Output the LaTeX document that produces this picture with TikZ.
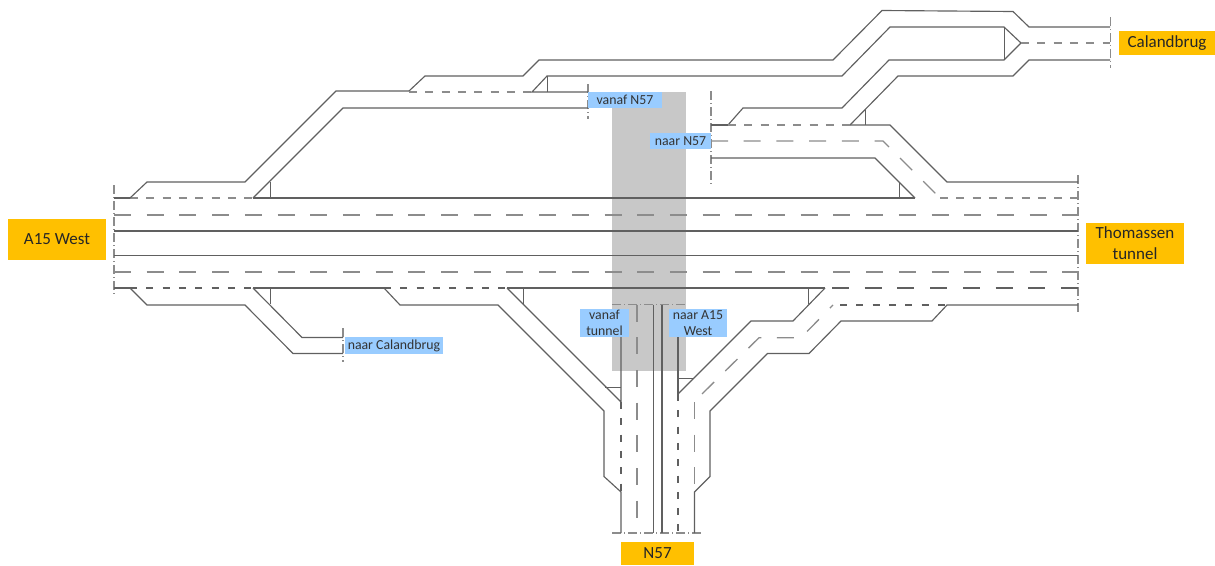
\documentclass[tikz,border=0pt]{standalone}
\usepackage{fontspec}
\setmainfont{Carlito}
\usepackage{tikz}
\definecolor{roadline}{HTML}{606060}
\definecolor{dashline}{HTML}{8C8C8C}
\definecolor{endorange}{HTML}{FFC000}
\definecolor{rampblue}{HTML}{99CCFF}
\definecolor{studygrey}{HTML}{C8C8C8}
\begin{document}
\begin{tikzpicture}[x=1pt, y=-1pt, align=center]

\tikzstyle{road} = [draw=roadline, line width=1.15pt, line join=miter]
\tikzstyle{gore} = [draw=roadline, line width=1pt]
\tikzstyle{shortdash} = [draw=dashline, line width=1.3pt, dash pattern=on 8pt off 8.3pt]
\tikzstyle{longdash} = [draw=dashline, line width=1.3pt, dash pattern=on 17pt off 15.7pt]
\tikzstyle{darkdash} = [draw=roadline, line width=1.1pt, dash pattern=on 7pt off 9.3pt]
\tikzstyle{boundary} = [draw=dashline, line width=1.1pt, dash pattern=on 9pt off 3pt on 1pt off 3pt]
\tikzstyle{endlabel} = [rectangle, fill=endorange, text=black!85, inner sep=0pt, font=\fontsize{17}{20.7}\selectfont]
\tikzstyle{ramplabel} = [rectangle, fill=rampblue, text=black!80, inner sep=0pt, font=\fontsize{13.8}{15.5}\selectfont]

\useasboundingbox (0,0) rectangle (1215,565);

\fill [studygrey] (612,92) rectangle (686,370.5);

\draw [boundary] (114,185) -- (114,296);
\draw [boundary] (1078,175) -- (1078,313);
\draw [boundary] (1110.5,17) -- (1110.5,68);
\draw [boundary] (588,84) -- (588,119);
\draw [boundary] (711,91) -- (711,187);
\draw [boundary] (343,328) -- (343,362);
\draw [boundary] (612,304.5) -- (687,304.5);
\draw [boundary] (612,533) -- (703,533);

\draw [road] (114,198) -- (130,198);
\draw [shortdash] (130,198) -- (253,198);
\draw [road] (253,198) -- (915,198);
\draw [longdash] (114,215) -- (1078,215);
\draw [road] (114,231) -- (1078,231);
\draw [road] (114,255.5) -- (1078,255.5);
\draw [longdash] (114,272) -- (1078,272);
\draw [road] (114,288) -- (130,288);
\draw [darkdash] (130,288) -- (253,288);
\draw [road] (253,288) -- (384,288);
\draw [darkdash] (384,288) -- (507,288);
\draw [road] (507,288) -- (825,288);
\draw [darkdash, dash pattern=on 17pt off 15.7pt] (832,288) -- (1078,288);

\draw [road] (130,198) -- (147,182) -- (245,182) -- (336,91) -- (409,91) -- (425,76) -- (523,76) -- (539,60) -- (833,60) -- (882,10.5) -- (1013,11.5) -- (1029,27) -- (1110,27);
\draw [road] (253,198) -- (343,108) -- (588,108);
\draw [gore] (270,182) -- (270,198);
\draw [shortdash] (409,92) -- (532,92);
\draw [road] (588,92) -- (532,92) -- (547,76) -- (842,76) -- (890,27) -- (1004,27) -- (1021,43) -- (1004,60) -- (889,60) -- (842,108) -- (743,108) -- (728,125);
\draw [gore] (547,76) -- (547,92);
\draw [gore] (1004,27) -- (1004,60);
\draw [shortdash] (1021,43) -- (1110,43);
\draw [road] (1110,60) -- (1029,60) -- (1013,76) -- (898,76) -- (850,125);
\draw [gore] (865.5,109) -- (865.5,125);

\draw [road] (711,125) -- (728,125);
\draw [shortdash] (728,125) -- (850,125);
\draw [road] (850,125) -- (890,125) -- (947,182) -- (1078,182);
\draw [longdash] (711,141) -- (883,141) -- (940,198);
\draw [shortdash] (940,198) -- (1078,198);
\draw [road] (711,158) -- (875,158) -- (915,198);
\draw [gore] (899,182) -- (899,198);

\draw [road] (130,288) -- (147,305) -- (245,305) -- (293,353.5) -- (343,353.5);
\draw [road] (253,288) -- (302,337.5) -- (343,337.5);
\draw [gore] (270,288) -- (270,304);

\draw [road] (384,288) -- (400,305) -- (498,305) -- (604,411) -- (604,476.5) -- (621,492) -- (621,533);
\draw [road] (507,288) -- (621,402) -- (621,312);
\draw [darkdash] (621,402) -- (621,492);
\draw [gore] (523,288) -- (523,304);
\draw [gore] (605,387.5) -- (621,387.5);

\draw [longdash] (637,304.5) -- (637,533);
\draw [road] (653.5,304.5) -- (653.5,533);
\draw [road] (662,304.5) -- (662,533);

\draw [road] (678,394) -- (751,321) -- (793,321) -- (825,288);
\draw [road] (678,312) -- (678,394);
\draw [darkdash] (678,394) -- (678,533);
\draw [gore] (678,378) -- (694,378);
\draw [gore] (808.5,288) -- (808.5,304);
\draw [road] (694.5,533) -- (694.5,492) -- (710,476.5) -- (710,411) -- (767.5,353.5) -- (809,353.5) -- (841,321) -- (932,321) -- (947,305) -- (1078,305);
\draw [longdash] (694.5,402) -- (694.5,485);
\draw [longdash] (702,394) -- (759,337.7) -- (801,337.7) -- (833,305);
\draw [darkdash] (840,305) -- (947,305);

\node (vanafnfiftyseven) [ramplabel, minimum width=74, minimum height=16.5] at (625,100.2) {vanaf N57};
\node (naarnfiftyseven) [ramplabel, minimum width=61, minimum height=16] at (680.5,141) {naar N57};
\node (naarcalandbrug) [ramplabel, minimum width=98, minimum height=17] at (394,345.5) {naar Calandbrug};
\node (vanaftunnel) [ramplabel, minimum width=49, minimum height=28] at (604.5,323) {vanaf\\tunnel};
\node (naarafifteenwest) [ramplabel, minimum width=58, minimum height=28] at (698,323) {naar A15\\West};

\node (afifteenwest) [endlabel, minimum width=98, minimum height=41] at (57,239.5) {A15 West};
\node (thomassentunnel) [endlabel, minimum width=98, minimum height=41] at (1135,243) {Thomassen\\tunnel};
\node (calandbrug) [endlabel, minimum width=96, minimum height=24] at (1167,43) {Calandbrug};
\node (nfiftyseven) [endlabel, minimum width=73.5, minimum height=23.5] at (657.5,553.5) {N57};

\end{tikzpicture}
\end{document}
